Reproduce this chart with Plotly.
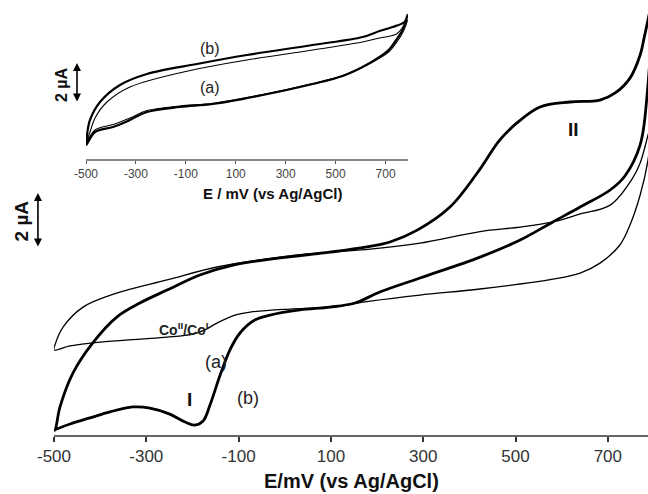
import plotly.graph_objects as go

# ---------------- main panel data (E in mV, i in µA) ----------------
# curve (b): thick, lower branch then upper branch (closed loop)
b_E = [-500, -465, -422, -379, -329, -292, -249, -216, -195, -177, -162, -140, -119, -97, -65, -32,
       33, 98, 152, 206, 293, 423, 510, 581, 640, 705, 737, 770, 785, 795,
       780, 770, 748, 716, 683, 618, 553, 503, 466, 417, 358, 287, 228, 178, 98, -10,
       -112, -184, -255, -314, -364, -416, -459, -487, -498, -500]
b_i = [0.18, 0.40, 0.62, 0.84, 1.02, 0.98, 0.76, 0.47, 0.36, 0.51, 1.09, 2.18, 3.09, 3.71, 4.18, 4.36,
       4.55, 4.65, 4.80, 5.20, 5.71, 6.47, 7.09, 7.75, 8.29, 8.91, 9.42, 10.55, 12.36, 15.6,
       14.55, 13.82, 12.98, 12.44, 12.18, 12.11, 11.93, 11.35, 10.73, 9.53, 8.29, 7.45, 7.02, 6.84, 6.65, 6.44,
       6.18, 5.82, 5.27, 4.80, 4.29, 3.35, 2.25, 1.02, 0.18, 0.18]

# curve (a): thin, lower branch then upper branch (closed loop)
a_E = [-500, -465, -400, -314, -255, -199, -173, -147, -108, -75, 11, 98, 185, 293, 423, 581, 640, 683,
       726, 748, 770, 787, 796,
       787, 770, 754, 705, 640, 581, 510, 423, 293, 185, 98, -10, -147, -255, -364, -437, -480, -498, -500]
a_i = [3.09, 3.24, 3.38, 3.49, 3.56, 3.67, 3.82, 4.07, 4.36, 4.47, 4.58, 4.65, 4.87, 5.09, 5.31, 5.67, 5.89, 6.25,
       6.91, 7.64, 8.73, 10.0, 11.45,
       10.9, 9.89, 9.35, 8.36, 8.04, 7.75, 7.56, 7.40, 6.98, 6.76, 6.65, 6.47, 6.11, 5.64, 5.16, 4.65, 3.93, 3.27, 3.09]

# ---------------- inset data ----------------
ib_E = [-500, -464, -392, -324, -256, -124, 8, 208, 408, 528, 608, 676, 716, 748, 768, 788,
        776, 728, 676, 608, 408, 144, -56, -256, -364, -444, -484, -496, -500]
ib_i = [0.70, 1.35, 1.60, 1.95, 2.35, 2.60, 2.75, 3.20, 3.75, 4.15, 4.60, 5.10, 5.50, 6.05, 6.45, 7.20,
        6.85, 6.60, 6.40, 6.10, 5.70, 5.20, 4.75, 4.25, 3.70, 2.85, 1.95, 1.20, 0.70]

ia_E = [-500, -464, -392, -324, -256, -124, 8, 208, 408, 528, 608, 676, 716, 748, 768, 788,
        772, 744, 676, 608, 408, 144, -56, -324, -416, -464, -484, -496, -500]
ia_i = [0.80, 1.45, 1.72, 2.05, 2.42, 2.65, 2.78, 3.22, 3.77, 4.17, 4.60, 5.05, 5.40, 5.90, 6.30, 6.95,
        6.65, 6.25, 6.05, 5.85, 5.45, 4.95, 4.50, 3.60, 2.85, 2.05, 1.35, 0.95, 0.80]

tick_vals = [-500, -300, -100, 100, 300, 500, 700]
tick_text = ["-500", "-300", "-100", "100", "300", "500", "700"]

FONT = "Liberation Sans, Arial, sans-serif"
SM = 1.0

fig = go.Figure()
fig.add_trace(go.Scatter(x=a_E, y=a_i, mode="lines", line=dict(color="black", width=1.3, shape="spline", smoothing=SM),
                         xaxis="x", yaxis="y", showlegend=False, hoverinfo="skip"))
fig.add_trace(go.Scatter(x=b_E, y=b_i, mode="lines", line=dict(color="black", width=2.8, shape="spline", smoothing=SM),
                         xaxis="x", yaxis="y", showlegend=False, hoverinfo="skip"))
fig.add_trace(go.Scatter(x=ib_E, y=ib_i, mode="lines", line=dict(color="black", width=2.2, shape="spline", smoothing=SM),
                         xaxis="x2", yaxis="y2", showlegend=False, hoverinfo="skip"))
fig.add_trace(go.Scatter(x=ia_E, y=ia_i, mode="lines", line=dict(color="black", width=1.1, shape="spline", smoothing=SM),
                         xaxis="x2", yaxis="y2", showlegend=False, hoverinfo="skip"))

fig.update_layout(
    width=648, height=494,
    margin=dict(l=54, r=0, t=0, b=59),
    paper_bgcolor="white", plot_bgcolor="white",
    font=dict(family=FONT, color="black"),
    xaxis=dict(range=[-500, 787], domain=[0, 1], anchor="y", automargin=False,
               showline=True, linecolor="#666", linewidth=2, showgrid=False, zeroline=False,
               ticks="outside", ticklen=5, tickwidth=1.5, tickcolor="#333",
               tickvals=tick_vals, ticktext=tick_text,
               tickfont=dict(family=FONT, size=17, color="#333")),
    yaxis=dict(range=[0, 15.82], domain=[0, 1], visible=False, automargin=False),
    xaxis2=dict(range=[-500, 790], domain=[0.0539, 0.596], anchor="y2", automargin=False,
                showline=True, linecolor="#888", linewidth=1.5, showgrid=False, zeroline=False,
                ticks="outside", ticklen=3, tickwidth=1, tickcolor="#555",
                tickvals=tick_vals, ticktext=tick_text,
                tickfont=dict(family=FONT, size=12, color="#444")),
    yaxis2=dict(range=[0, 7.45], domain=[0.6345, 0.977], anchor="x2", visible=False, automargin=False),
)

C = dict(xanchor="center", yanchor="middle", showarrow=False)
ann = []
# axis titles
ann.append(dict(x=0.5, y=-0.106, xref="paper", yref="paper", text="<b>E/mV (vs Ag/AgCl)</b>",
                font=dict(family=FONT, size=20, color="#111"), **C))
ann.append(dict(x=0.3675, y=0.556, xref="paper", yref="paper", text="<b>E / mV (vs Ag/AgCl)</b>",
                font=dict(family=FONT, size=15, color="#111"), **C))
# main scale bar (2 µA)
ann.append(dict(x=-0.027, y=8.8, xref="paper", yref="y", ax=0, ay=6.8, axref="pixel", ayref="y",
                showarrow=True, arrowside="end+start", arrowhead=2, arrowsize=1, arrowwidth=1.6,
                arrowcolor="black", text=""))
ann.append(dict(x=-0.054, y=7.8, xref="paper", yref="y", text="<b>2 µA</b>", textangle=-90,
                font=dict(size=19, family=FONT, color="#111"), **C))
# inset scale bar
ann.append(dict(x=0.0387, y=4.8, xref="paper", yref="y2", ax=0, ay=2.8, axref="pixel", ayref="y2",
                showarrow=True, arrowside="end+start", arrowhead=2, arrowsize=1, arrowwidth=1.6,
                arrowcolor="black", text=""))
ann.append(dict(x=0.0135, y=3.7, xref="paper", yref="y2", text="<b>2 µA</b>", textangle=-90,
                font=dict(size=16, family=FONT, color="#111"), **C))
# inset labels
ann.append(dict(x=-4, y=5.55, xref="x2", yref="y2", text="(b)", font=dict(size=16, family=FONT, color="#222"), **C))
ann.append(dict(x=-4, y=3.55, xref="x2", yref="y2", text="(a)", font=dict(size=16, family=FONT, color="#222"), **C))
# main labels
ann.append(dict(x=-218, y=3.85, xref="x", yref="y", text="<b>Co<sup>II</sup>/Co<sup>I</sup></b>",
                font=dict(size=14, family=FONT, color="#222"), **C))
ann.append(dict(x=-150, y=2.66, xref="x", yref="y", text="(a)", font=dict(size=18, family=FONT, color="#222"), **C))
ann.append(dict(x=-80, y=1.35, xref="x", yref="y", text="(b)", font=dict(size=18, family=FONT, color="#222"), **C))
ann.append(dict(x=-207, y=1.28, xref="x", yref="y", text="<b>I</b>", font=dict(size=19, family=FONT, color="#111"), **C))
ann.append(dict(x=625, y=11.1, xref="x", yref="y", text="<b>II</b>", font=dict(size=19, family=FONT, color="#111"), **C))
fig.update_layout(annotations=ann)

fig.write_html("out.html", config={"displayModeBar": False},
               post_script="document.body.style.margin='0';document.body.style.padding='0';")
